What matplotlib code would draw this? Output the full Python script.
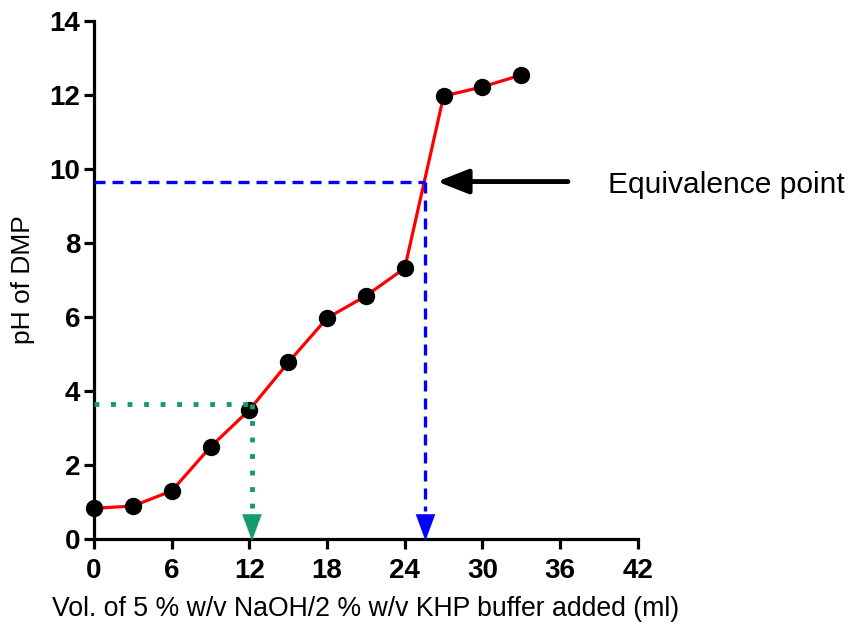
import matplotlib
matplotlib.use("Agg")
import matplotlib.pyplot as plt

plt.rcParams['font.family'] = ['Liberation Sans', 'DejaVu Sans']

# Titration data
volume_ml = [0, 3, 6, 9, 12, 15, 18, 21, 24, 27, 30, 33]
ph_values = [0.83, 0.89, 1.30, 2.49, 3.49, 4.77, 5.97, 6.57, 7.32, 11.97, 12.22, 12.54]

# Marked points
equiv_x, equiv_y = 25.6, 9.66
half_x, half_y = 12.2, 3.64

x_ticks = [0, 6, 12, 18, 24, 30, 36, 42]
y_ticks = [0, 2, 4, 6, 8, 10, 12, 14]

fig = plt.figure(figsize=(8.51, 6.26), dpi=100)
ax = fig.add_axes([0.1105, 0.139, 0.639, 0.8275])

ax.set_xlim(0, 42)
ax.set_ylim(0, 14)

blue = '#0000ff'
green = '#159c6b'
head = '-|>,head_length=19,head_width=7'

# titration curve
ax.plot(volume_ml, ph_values, color='#ff0000', lw=2.3, zorder=3)
ax.plot(volume_ml, ph_values, 'o', color='black', ms=11.5, zorder=4, clip_on=False)

# equivalence guide lines
ax.plot([0, equiv_x], [equiv_y, equiv_y], color=blue, lw=2.4, ls=(0, (3.3, 2.1)), zorder=5)
ax.plot([equiv_x, equiv_x], [equiv_y, 0.75], color=blue, lw=2.4, ls=(0, (3.3, 2.1)), zorder=5)
ax.annotate('', xy=(equiv_x, -0.05), xytext=(equiv_x, 0.8),
            arrowprops=dict(arrowstyle=head, mutation_scale=1,
                            color=blue, lw=0.1, shrinkA=0, shrinkB=0),
            annotation_clip=False, zorder=5)

# half-equivalence guide lines
ax.plot([0, half_x], [half_y, half_y], color=green, lw=3.5, ls=(0, (1, 2.4)), zorder=5)
ax.plot([half_x, half_x], [half_y, 0.75], color=green, lw=3.5, ls=(0, (1, 2.4)), zorder=5)
ax.annotate('', xy=(half_x, -0.05), xytext=(half_x, 0.8),
            arrowprops=dict(arrowstyle=head, mutation_scale=1,
                            color=green, lw=0.1, shrinkA=0, shrinkB=0),
            annotation_clip=False, zorder=5)

# equivalence point callout
ax.annotate('', xy=(26.5, equiv_y), xytext=(36.6, equiv_y),
            arrowprops=dict(arrowstyle='-|>,head_length=19,head_width=7.5', mutation_scale=1,
                            color='black', lw=3.5, shrinkA=0, shrinkB=0),
            annotation_clip=False)
ax.text(39.7, equiv_y - 0.08, 'Equivalence point', fontsize=21.6, va='center', ha='left',
        clip_on=False)

for side in ('top', 'right'):
    ax.spines[side].set_visible(False)
for side in ('left', 'bottom'):
    ax.spines[side].set_linewidth(2.3)

ax.set_xticks(x_ticks)
ax.set_yticks(y_ticks)
ax.tick_params(width=2.3, length=7, direction='out', labelsize=20)
ax.tick_params(axis='x', pad=6.5)
ax.tick_params(axis='y', pad=3)
for lab in ax.get_xticklabels() + ax.get_yticklabels():
    lab.set_fontweight('bold')

ax.set_xlabel('Vol. of 5 % w/v NaOH/2 % w/v KHP buffer added (ml)', fontsize=19.2, labelpad=9)
ax.set_ylabel('pH of DMP', fontsize=19, labelpad=10)

fig.savefig('out.png', dpi=100)
